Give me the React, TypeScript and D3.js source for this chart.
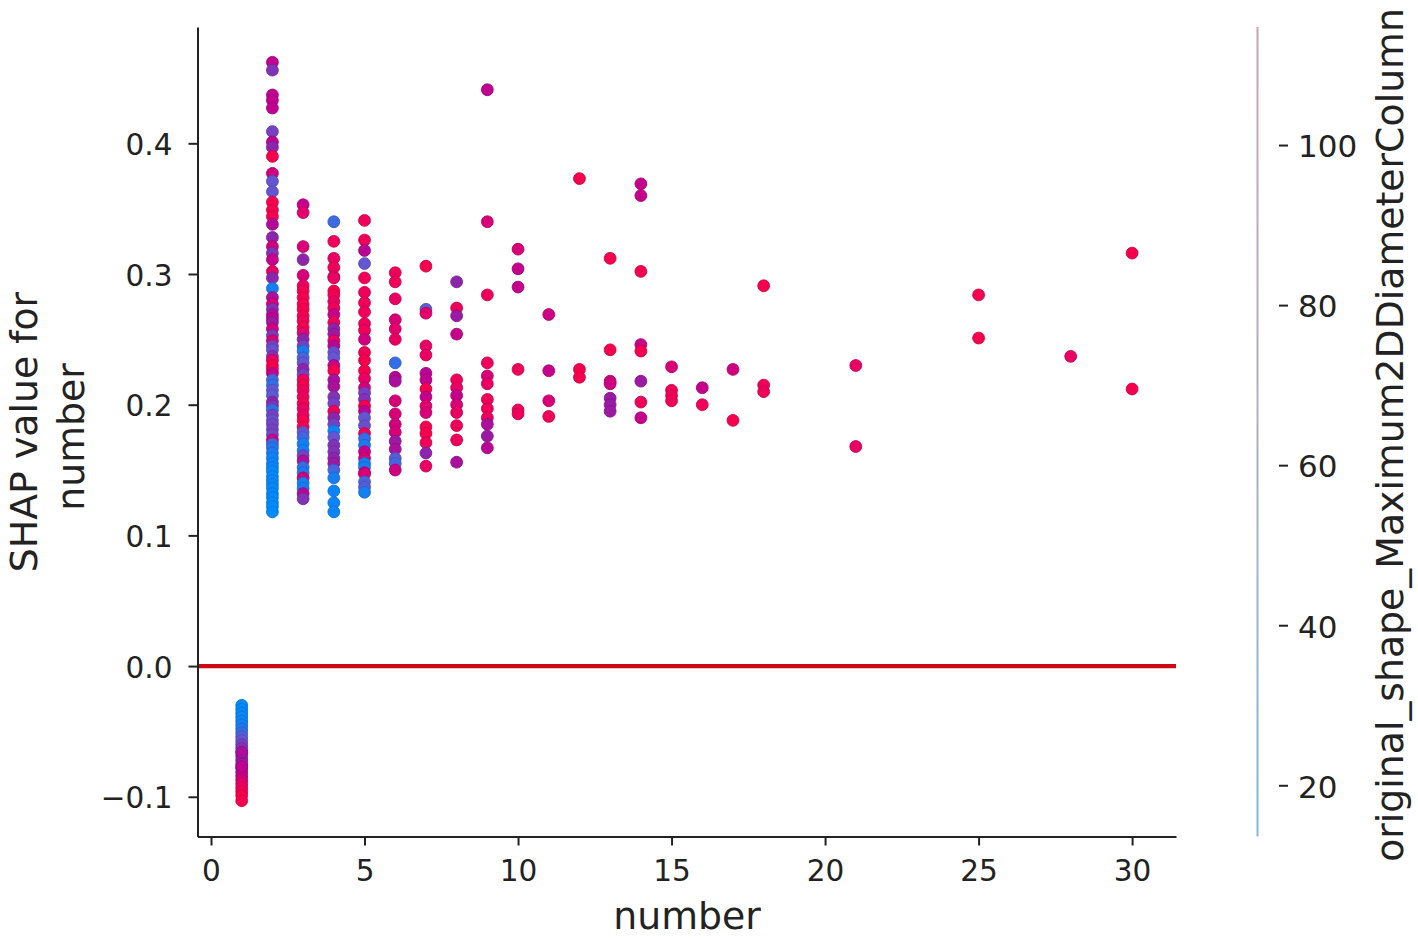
import React, { useEffect, useRef } from 'react';
import * as d3 from 'd3';

// each point: [SHAP value for number, original_shape_Maximum2DDiameterColumn]
type Pt = [number, number];

const number1: Pt[] = [
  [-0.030, 20], [-0.033, 20], [-0.036, 21], [-0.039, 21], [-0.042, 22], [-0.045, 23], [-0.048, 26], [-0.051, 28],
  [-0.054, 31], [-0.057, 33], [-0.060, 36], [-0.063, 38], [-0.066, 38], [-0.069, 40], [-0.072, 42], [-0.075, 41],
  [-0.078, 40], [-0.081, 44], [-0.084, 48], [-0.087, 50], [-0.090, 54], [-0.093, 57], [-0.096, 59], [-0.099, 60], [-0.103, 60],
  [-0.066, 44], [-0.077, 47],
];
const number2: Pt[] = [
  [0.462, 47], [0.456, 38], [0.437, 47], [0.433, 47], [0.427, 47], [0.409, 36], [0.401, 47], [0.397, 40], [0.390, 60],
  [0.377, 50], [0.371, 33], [0.363, 33], [0.355, 60], [0.349, 60], [0.344, 60], [0.338, 45], [0.328, 40], [0.321, 50],
  [0.316, 38], [0.311, 48], [0.302, 55], [0.297, 40], [0.289, 24], [0.282, 44], [0.277, 52], [0.273, 38], [0.269, 44],
  [0.266, 47], [0.263, 42], [0.258, 50], [0.253, 37], [0.249, 52], [0.245, 36], [0.242, 34], [0.237, 38], [0.234, 56],
  [0.230, 60], [0.227, 60], [0.224, 48], [0.219, 30], [0.215, 28], [0.211, 33], [0.207, 32], [0.202, 40], [0.199, 38],
  [0.196, 28], [0.192, 36], [0.188, 34], [0.185, 35], [0.181, 36], [0.177, 35], [0.173, 50], [0.170, 30], [0.167, 27],
  [0.163, 26], [0.159, 22], [0.155, 23], [0.152, 22], [0.149, 21], [0.145, 21], [0.142, 21], [0.139, 22], [0.136, 21],
  [0.132, 21], [0.129, 21], [0.125, 20], [0.122, 20], [0.118, 20],
];
const number3: Pt[] = [
  [0.353, 48], [0.347, 54], [0.321, 52], [0.311, 40], [0.299, 52], [0.291, 56], [0.287, 60], [0.282, 60], [0.277, 60],
  [0.273, 60], [0.268, 60], [0.264, 58], [0.259, 60], [0.255, 54], [0.250, 40], [0.245, 36], [0.241, 25], [0.236, 30],
  [0.232, 33], [0.227, 40], [0.223, 36], [0.219, 58], [0.215, 60], [0.211, 58], [0.206, 56], [0.201, 60], [0.197, 56],
  [0.192, 56], [0.188, 60], [0.183, 60], [0.179, 33], [0.175, 30], [0.170, 24], [0.165, 24], [0.161, 36], [0.157, 44],
  [0.152, 28], [0.148, 26], [0.144, 50], [0.140, 24], [0.136, 24], [0.132, 46], [0.128, 38],
];
const number4: Pt[] = [
  [0.340, 29], [0.325, 58], [0.312, 56], [0.305, 58], [0.298, 56], [0.297, 56], [0.287, 60], [0.284, 60], [0.279, 56],
  [0.274, 58], [0.269, 48], [0.263, 58], [0.258, 40], [0.254, 42], [0.249, 56], [0.245, 46], [0.240, 34], [0.236, 33],
  [0.230, 48], [0.226, 60], [0.219, 44], [0.214, 44], [0.206, 38], [0.201, 36], [0.195, 58], [0.190, 40], [0.185, 36],
  [0.180, 22], [0.175, 33], [0.169, 38], [0.164, 38], [0.159, 40], [0.155, 42], [0.150, 30], [0.144, 24], [0.134, 22], [0.125, 22], [0.118, 22],
];
const number5: Pt[] = [
  [0.341, 58], [0.326, 58], [0.318, 46], [0.308, 33], [0.297, 58], [0.286, 58], [0.278, 58], [0.271, 58], [0.262, 58],
  [0.257, 58], [0.250, 50], [0.240, 58], [0.234, 60], [0.226, 60], [0.220, 56], [0.213, 52], [0.209, 36], [0.204, 38],
  [0.199, 60], [0.195, 46], [0.190, 33], [0.184, 34], [0.178, 58], [0.174, 28], [0.169, 26], [0.164, 48], [0.159, 52],
  [0.155, 24], [0.152, 24], [0.148, 48], [0.147, 52], [0.141, 30], [0.137, 32], [0.133, 24],
];
const number6: Pt[] = [
  [0.301, 58], [0.294, 58], [0.281, 56], [0.265, 52], [0.258, 54], [0.250, 56], [0.232, 28], [0.221, 46], [0.218, 44],
  [0.203, 52], [0.193, 52], [0.185, 50], [0.179, 52], [0.172, 42], [0.166, 44], [0.159, 32], [0.155, 30], [0.150, 50],
];
const number7: Pt[] = [
  [0.306, 60], [0.273, 32], [0.270, 54], [0.245, 56], [0.238, 56], [0.224, 46], [0.219, 47], [0.212, 60], [0.206, 48],
  [0.199, 54], [0.194, 52], [0.183, 60], [0.178, 60], [0.171, 58], [0.163, 40], [0.153, 56],
];
const number8: Pt[] = [
  [0.294, 40], [0.274, 58], [0.268, 42], [0.254, 48], [0.219, 58], [0.213, 56], [0.207, 48], [0.200, 52], [0.194, 56],
  [0.184, 58], [0.173, 58], [0.156, 44],
];
const number9: Pt[] = [
  [0.441, 47], [0.340, 52], [0.284, 58], [0.232, 58], [0.222, 52], [0.216, 56], [0.204, 58], [0.197, 58], [0.190, 58],
  [0.185, 44], [0.176, 42], [0.167, 46],
];
const number10: Pt[] = [[0.319, 52], [0.304, 48], [0.290, 48], [0.227, 58], [0.196, 58], [0.193, 58]];
const number11: Pt[] = [[0.269, 50], [0.226, 48], [0.203, 52], [0.191, 58]];
const number12: Pt[] = [[0.373, 60], [0.227, 60], [0.221, 60]];
const number13: Pt[] = [[0.312, 60], [0.242, 60], [0.218, 50], [0.216, 50], [0.205, 42], [0.200, 42], [0.195, 42]];
const number14: Pt[] = [[0.369, 48], [0.360, 48], [0.302, 60], [0.246, 48], [0.241, 60], [0.218, 42], [0.202, 58], [0.190, 48]];
const number15: Pt[] = [[0.229, 52], [0.211, 58], [0.207, 58], [0.203, 58]];
const number16: Pt[] = [[0.213, 48], [0.200, 58]];
const number17: Pt[] = [[0.227, 50], [0.188, 60]];
const number18: Pt[] = [[0.291, 60], [0.215, 58], [0.210, 58]];
const number21: Pt[] = [[0.230, 56], [0.168, 56]];
const number25: Pt[] = [[0.284, 60], [0.251, 60]];
const number28: Pt[] = [[0.237, 56]];
const number30: Pt[] = [[0.316, 60], [0.212, 60]];

const columns: [number, Pt[]][] = [
  [1, number1], [2, number2], [3, number3], [4, number4], [5, number5], [6, number6], [7, number7], [8, number8],
  [9, number9], [10, number10], [11, number11], [12, number12], [13, number13], [14, number14], [15, number15],
  [16, number16], [17, number17], [18, number18], [21, number21], [25, number25], [28, number28], [30, number30],
];

const xTicks = [0, 5, 10, 15, 20, 25, 30];
const yTicks = [-0.1, 0, 0.1, 0.2, 0.3, 0.4];
const colorTicks = [20, 40, 60, 80, 100];

const WIDTH = 1418;
const HEIGHT = 938;
const FONT = '"DejaVu Sans", sans-serif';
const TEXT = '#222';

export default function App() {
  const svgRef = useRef<SVGSVGElement>(null);

  useEffect(() => {
    if (!svgRef.current) return;
    const svg = d3.select(svgRef.current);
    svg.selectAll('*').remove();

    const x = d3.scaleLinear().domain([-0.44, 31.43]).range([197.5, 1176]);
    const y = d3.scaleLinear().domain([-0.1304, 0.489]).range([836.5, 27]);
    const c = d3.scaleLinear().domain([13.6, 114.75]).range([836.5, 27]);

    // shap red_blue as seen in the picture, feature value clipped at the top
    const color = d3.scaleLinear<string>()
      .domain([20, 26, 33, 40, 47, 54, 60])
      .range(['#008bfb', '#1f78ee', '#6456d2', '#8c25ac', '#c0008f', '#e2006c', '#f5004f'])
      .clamp(true);

    const dots = svg.append('g');
    columns.forEach(([n, pts]) => {
      dots.selectAll(null)
        .data(pts)
        .enter()
        .append('circle')
        .attr('cx', x(n))
        .attr('cy', d => y(d[0]))
        .attr('r', 5.9)
        .attr('fill', d => color(d[1]))
        .attr('stroke', d => d3.color(color(d[1]))!.darker(0.45).formatHex())
        .attr('stroke-width', 0.9);
    });

    // zero line
    svg.append('line')
      .attr('x1', 197.5).attr('x2', 1176)
      .attr('y1', y(0)).attr('y2', y(0))
      .attr('stroke', '#cc0a14').attr('stroke-width', 4.2);

    const yAxis = svg.append('g')
      .attr('transform', 'translate(197.5,0)')
      .call(d3.axisLeft(y).tickValues(yTicks).tickFormat(d3.format('.1f') as any).tickSize(9).tickPadding(16).tickSizeOuter(0));
    const xAxis = svg.append('g')
      .attr('transform', 'translate(0,836.5)')
      .call(d3.axisBottom(x).tickValues(xTicks).tickSize(9).tickPadding(15).tickSizeOuter(0));

    [yAxis, xAxis].forEach(a => {
      a.attr('font-family', FONT).attr('font-size', 29.5);
      a.selectAll('text').attr('fill', TEXT);
      a.selectAll('line').attr('stroke', '#222').attr('stroke-width', 2);
      a.select('.domain').attr('stroke', '#222').attr('stroke-width', 2);
    });
    yAxis.selectAll('text').attr('dy', '0.38em');

    // colour bar, very thin as in the original
    const defs = svg.append('defs');
    const grad = defs.append('linearGradient')
      .attr('id', 'cbar').attr('x1', 0).attr('x2', 0).attr('y1', 1).attr('y2', 0);
    grad.append('stop').attr('offset', '0%').attr('stop-color', '#7fb8dc');
    grad.append('stop').attr('offset', '50%').attr('stop-color', '#b0b0c8');
    grad.append('stop').attr('offset', '100%').attr('stop-color', '#c8a4b4');
    svg.append('rect')
      .attr('x', 1256.5).attr('y', 27).attr('width', 2).attr('height', 809.5)
      .attr('fill', 'url(#cbar)');

    const cAxis = svg.append('g')
      .attr('transform', 'translate(1279,0)')
      .call(d3.axisRight(c).tickValues(colorTicks).tickSize(9).tickPadding(10).tickSizeOuter(0));
    cAxis.attr('font-family', FONT).attr('font-size', 31);
    cAxis.select('.domain').remove();
    cAxis.selectAll('text').attr('fill', TEXT).attr('dy', '0.38em');
    cAxis.selectAll('line').attr('stroke', '#222').attr('stroke-width', 2);

    const label = (text: string, px: number, py: number, size: number, rotate: boolean) =>
      svg.append('text')
        .attr('transform', `translate(${px},${py})${rotate ? ' rotate(-90)' : ''}`)
        .attr('text-anchor', 'middle')
        .attr('font-family', FONT)
        .attr('font-size', size)
        .attr('fill', TEXT)
        .text(text);

    label('number', 687, 929, 37.8, false);
    label('SHAP value for', 37, 432, 37.8, true);
    label('number', 84, 437, 37.8, true);
    label('original_shape_Maximum2DDiameterColumn', 1403, 435, 37.8, true);
  }, []);

  return (
    <svg
      ref={svgRef}
      width={WIDTH}
      height={HEIGHT}
      style={{ position: 'absolute', left: 0, top: 0, background: '#fff' }}
    />
  );
}
